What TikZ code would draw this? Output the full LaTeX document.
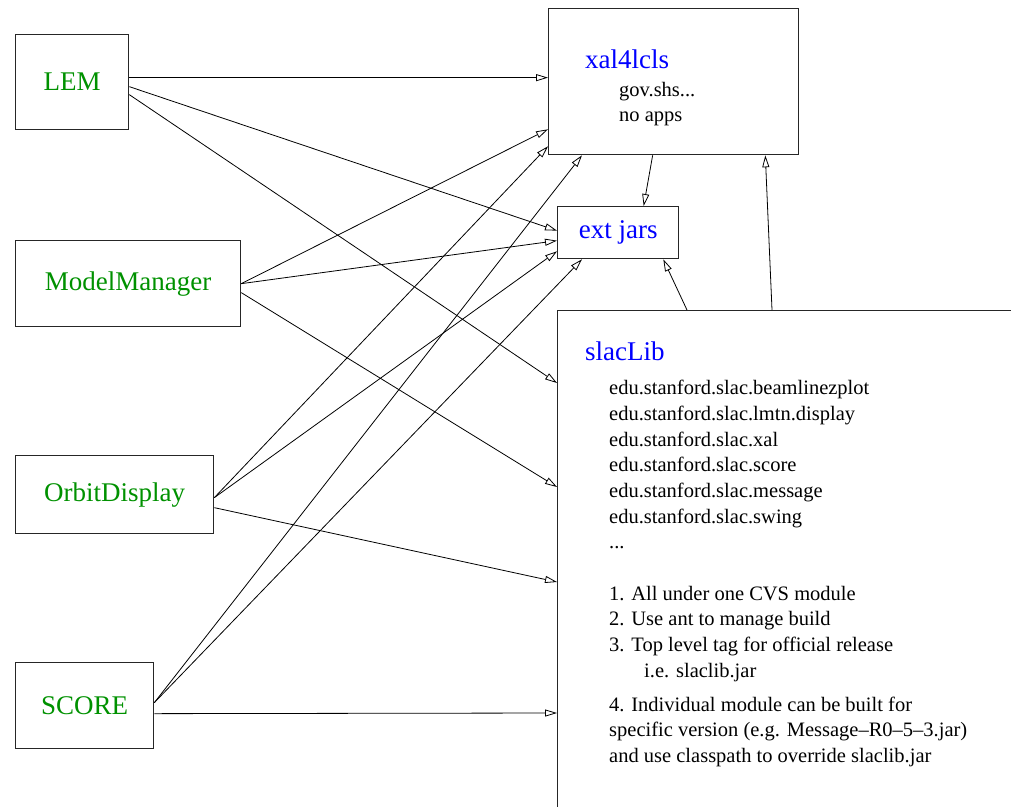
\documentclass[tikz,border=0pt]{standalone}
\usepackage{fontspec}
\setmainfont{Liberation Serif}
\usepackage{tikz}
\usetikzlibrary{positioning}
\usetikzlibrary{arrows.meta}
\tikzset{>={Triangle[open,length=12pt,width=7pt]}}
\definecolor{labelgreen}{RGB}{0,145,0}
\definecolor{titleblue}{RGB}{0,0,255}

\begin{document}
\begin{tikzpicture}[x=1pt, y=-1pt, box/.style={draw=black!85, line width=1.3pt, inner sep=0pt, anchor=north west, text=labelgreen, font=\fontsize{27}{32}\selectfont}, title/.style={anchor=base west, inner sep=0pt, text=titleblue, font=\fontsize{27}{32}\selectfont}, bodytext/.style={anchor=north west, inner sep=0pt, align=left, font=\fontsize{20.5}{25.7}\selectfont}, link/.style={->, line width=0.8pt}]

    \useasboundingbox (0,0) rectangle (1011,806);

    %Nodes
    \node[box, minimum width=113pt, minimum height=95pt](lem) at (15,34) {LEM};
    \node[box, minimum width=225pt, minimum height=86pt](model_manager) at (15,240) {ModelManager};
    \node[box, minimum width=198pt, minimum height=78pt](orbit_display) at (15,455) {OrbitDisplay};
    \node[box, minimum width=138pt, minimum height=86pt](score) at (15,662) {SCORE};
    \node[box, minimum width=250pt, minimum height=146pt](xal) at (548,8) {};
    \node[box, text=titleblue, minimum width=121pt, minimum height=52pt](ext_jars) at (557,206) {ext jars};
    \node[box, minimum width=500pt, minimum height=560pt](slac_lib) at (557,310) {};

    \node[title](xal_title) at (585,68) {xal4lcls};
    \node[bodytext](xal_text) at (619,82) {gov.shs...\\[-1pt]no apps};
    \node[title](slac_title) at (585,360) {slacLib};
    \node[bodytext](slac_text) at (609,380) {edu.stanford.slac.beamlinezplot\\
        edu.stanford.slac.lmtn.display\\
        edu.stanford.slac.xal\\
        edu.stanford.slac.score\\
        edu.stanford.slac.message\\
        edu.stanford.slac.swing\\
        ...\\[25.7pt]
        1. All under one CVS module\\
        2. Use ant to manage build\\
        3. Top level tag for official release\\
        \hspace*{35pt}i.e. slaclib.jar\\[8pt]
        4. Individual module can be built for\\
        specific version (e.g. Message--R0--5--3.jar)\\
        and use classpath to override slaclib.jar};

    %Lines
    \draw[link] ([yshift=4.5pt]lem.east) -- ([yshift=4pt]xal.west);
    \draw[link] ([yshift=-4.5pt]lem.east) -- ([yshift=2pt]ext_jars.west);
    \draw[link] ([yshift=-12.5pt]lem.east) -- ([yshift=-73pt]slac_lib.north west);
    \draw[link] (model_manager.east) -- ([yshift=26pt]xal.south west);
    \draw[link] (model_manager.east) -- ([yshift=-8pt]ext_jars.west);
    \draw[link] ([yshift=-9pt]model_manager.east) -- ([yshift=-177pt]slac_lib.north west);
    \draw[link] ([yshift=-3pt]orbit_display.east) -- ([yshift=9pt]xal.south west);
    \draw[link] ([yshift=-3pt]orbit_display.east) -- ([yshift=8pt]ext_jars.south west);
    \draw[link] ([yshift=-13pt]orbit_display.east) -- ([yshift=-272pt]slac_lib.north west);
    \draw[link] ([yshift=3pt]score.east) -- ([xshift=34pt]xal.south west);
    \draw[link] ([yshift=3pt]score.east) -- ([xshift=25pt]ext_jars.south west);
    \draw[link] ([yshift=-8pt]score.east) -- ([yshift=-403pt]slac_lib.north west);
    \draw[link] ([xshift=-21pt]xal.south) -- ([xshift=25.5pt]ext_jars.north);
    \draw[link] ([xshift=130pt]slac_lib.north west) -- ([xshift=-16pt]ext_jars.south east);
    \draw[link] ([xshift=215pt]slac_lib.north west) -- ([xshift=-34pt]xal.south east);

\end{tikzpicture}
\end{document}
